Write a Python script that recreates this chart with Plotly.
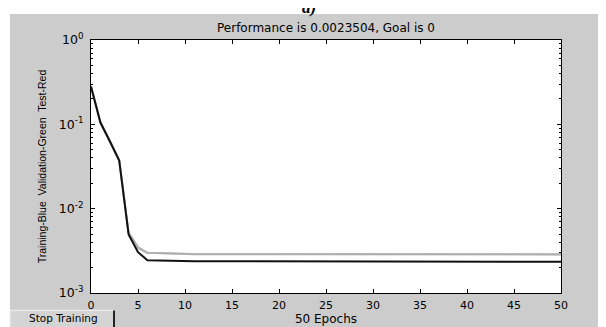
import plotly.graph_objects as go

# ---- data ----
epochs = [0, 1, 2, 3, 4, 5, 6, 11, 50]
training = [0.28, 0.105, 0.063, 0.0373, 0.00495, 0.00305, 0.00245, 0.00238, 0.00235]
validation = [0.28, 0.106, 0.064, 0.0378, 0.0052, 0.0035, 0.0030, 0.00289, 0.00287]
test = [0.28, 0.106, 0.064, 0.0378, 0.0051, 0.0034, 0.0030, 0.00290, 0.00288]

x_ticks = [0, 5, 10, 15, 20, 25, 30, 35, 40, 45, 50]
y_tickvals = [1e-3, 1e-2, 1e-1, 1e0]
y_ticktext = ["10<sup>-3</sup>", "10<sup>-2</sup>", "10<sup>-1</sup>", "10<sup>0</sup>"]
decades = [1e-3, 1e-2, 1e-1]
minor_mult = [2, 3, 4, 5, 6, 7, 8, 9]
y_minor = [d * m for d in decades for m in minor_mult]

title_text = "Performance is 0.0023504, Goal is 0"
y_title = "Training-Blue  Validation-Green  Test-Red"
x_title = "50 Epochs"
button_text = "Stop Training"

# ---- layout geometry (pixels) ----
W, H = 606, 327
L, R, T, B = 83, 553, 32, 294
pw, ph = R - L, B - T


def px(xp):
    return (xp - L) / pw


def py(yp):
    return (B - yp) / ph


BG = "#cccccc"
FONT = "DejaVu Sans, Verdana, sans-serif"
FONT2 = "Liberation Sans, Arial, sans-serif"

fig = go.Figure()
fig.add_trace(go.Scatter(x=epochs, y=test, mode="lines", line=dict(color="#bdbdbd", width=2),
                         name="Test", showlegend=False, hoverinfo="skip"))
fig.add_trace(go.Scatter(x=epochs, y=validation, mode="lines", line=dict(color="#b0b0b0", width=2),
                         name="Validation", showlegend=False, hoverinfo="skip"))
fig.add_trace(go.Scatter(x=epochs, y=training, mode="lines", line=dict(color="#111111", width=2),
                         name="Training", showlegend=False, hoverinfo="skip"))

shapes = [
    # white strips around the gray figure panel
    dict(type="rect", xref="paper", yref="paper", x0=px(-5), x1=px(610), y0=py(5), y1=py(-5),
         fillcolor="white", line=dict(width=0), layer="above"),
    dict(type="rect", xref="paper", yref="paper", x0=px(-5), x1=px(2), y0=py(330), y1=py(-5),
         fillcolor="white", line=dict(width=0), layer="above"),
    # Stop Training button
    dict(type="rect", xref="paper", yref="paper", x0=px(2), x1=px(106), y0=py(330), y1=py(312),
         fillcolor="#d4d4d4", line=dict(color="#f0f0f0", width=1), layer="above"),
    dict(type="line", xref="paper", yref="paper", x0=px(106), x1=px(106), y0=py(330), y1=py(312),
         line=dict(color="#222222", width=2)),
]

annotations = [
    dict(text="<i><b>a)</b></i>", xref="paper", yref="paper", x=px(301), y=py(-2),
         showarrow=False, font=dict(family="Liberation Serif, Times New Roman, serif", size=17, color="black"),
         xanchor="center", yanchor="middle"),
    dict(text=button_text, xref="paper", yref="paper", x=px(55), y=py(320),
         showarrow=False, font=dict(family=FONT, size=10.5, color="black"),
         xanchor="center", yanchor="middle"),
]

fig.update_layout(
    width=W, height=H,
    margin=dict(l=L, r=W - R, t=T, b=H - B, pad=0),
    paper_bgcolor=BG,
    plot_bgcolor="white",
    font=dict(family=FONT, size=11, color="black"),
    title=dict(text=title_text, x=(L + R) / 2 / W, xanchor="center", y=1 - 20 / H, yanchor="middle",
               font=dict(family=FONT, size=12, color="black")),
    shapes=shapes,
    annotations=annotations,
    showlegend=False,
)

fig.update_xaxes(
    range=[0, 50], tickvals=x_ticks, ticks="inside", ticklen=4, tickcolor="black",
    showline=True, linecolor="black", linewidth=1, mirror="ticks", showgrid=False, zeroline=False,
    tickfont=dict(family=FONT, size=11), ticklabelstandoff=2,
    title=dict(text=x_title, font=dict(family=FONT, size=12), standoff=2),
)
fig.update_yaxes(
    type="log", range=[-3, 0], tickvals=y_tickvals, ticktext=y_ticktext,
    ticks="inside", ticklen=4, tickcolor="black",
    minor=dict(tickvals=y_minor, ticks="inside", ticklen=2, tickcolor="black", showgrid=False),
    showline=True, linecolor="black", linewidth=1, mirror="ticks", showgrid=False, zeroline=False,
    tickfont=dict(family=FONT, size=12.5), ticklabelstandoff=4,
    title=dict(text=y_title, font=dict(family=FONT2, size=10.5), standoff=10),
)

fig.write_html("out.html")
